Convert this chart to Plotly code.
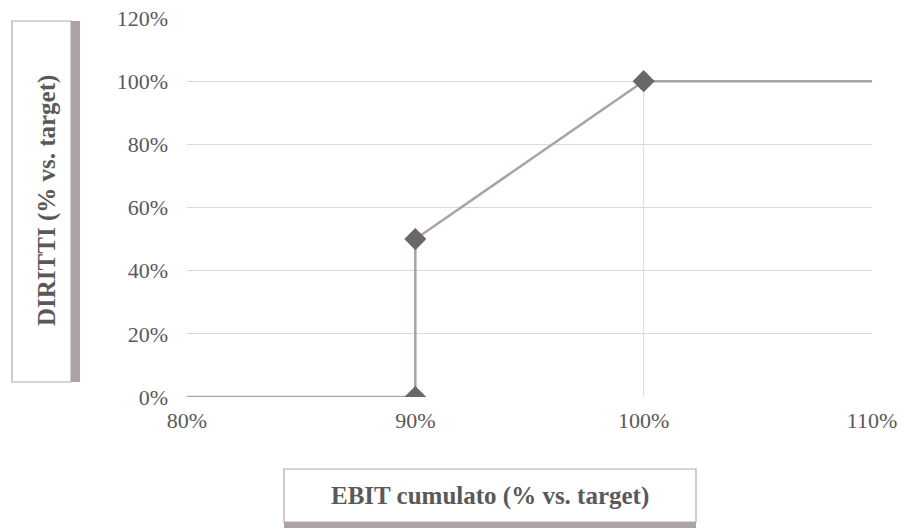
import plotly.graph_objects as go

# Data
ebit = [0.8, 0.9, 0.9, 1.0, 1.1]
diritti = [0.0, 0.0, 0.5, 1.0, 1.0]
marker_x = [0.9, 0.9, 1.0]
marker_y = [0.0, 0.5, 1.0]
x_title = "EBIT cumulato (% vs. target)"
y_title = "DIRITTI (% vs. target)"

W, H = 898, 528
L, R, T, B = 187, 26, 18, 131
PW, PH = W - L - R, H - T - B

def px(x):
    return (x - L) / PW

def py(y):
    return (H - B - y) / PH

LINE_C = "#aca2a2"
MARK_C = "#6b6767"
GRID_C = "#d9d9d9"
TEXT_C = "#595959"
FONT = "Liberation Serif"

fig = go.Figure()
# vertical gridline at 100%
fig.add_trace(go.Scatter(x=[1.0, 1.0], y=[0.0, 1.0], mode="lines",
                         line=dict(color=GRID_C, width=1), hoverinfo="skip", showlegend=False))
fig.add_trace(go.Scatter(x=ebit, y=diritti, mode="lines",
                         line=dict(color=LINE_C, width=2.5), showlegend=False))
fig.add_trace(go.Scatter(x=marker_x, y=marker_y, mode="markers",
                         marker=dict(symbol="diamond", size=17, color=MARK_C), showlegend=False))

shapes = []
# Y title box: shadow on right
shapes.append(dict(type="rect", xref="paper", yref="paper",
                   x0=px(71), x1=px(80), y0=py(382), y1=py(21),
                   fillcolor="#ada3a3", line=dict(width=0), layer="below"))
shapes.append(dict(type="rect", xref="paper", yref="paper",
                   x0=px(12), x1=px(71), y0=py(382), y1=py(21),
                   fillcolor="white", line=dict(color="#b3a9a9", width=1.2), layer="below"))
# X title box: shadow at bottom
shapes.append(dict(type="rect", xref="paper", yref="paper",
                   x0=px(284), x1=px(696), y0=py(528), y1=py(522),
                   fillcolor="#ada3a3", line=dict(width=0), layer="below"))
shapes.append(dict(type="rect", xref="paper", yref="paper",
                   x0=px(284), x1=px(696), y0=py(522), y1=py(469),
                   fillcolor="white", line=dict(color="#b3a9a9", width=1.2), layer="below"))

annotations = [
    dict(text="<b>" + y_title + "</b>", xref="paper", yref="paper",
         x=px(47), y=py(201), textangle=-90, showarrow=False,
         xanchor="center", yanchor="middle",
         font=dict(family=FONT, size=25, color=TEXT_C)),
    dict(text="<b>" + x_title + "</b>", xref="paper", yref="paper",
         x=px(490), y=py(496), showarrow=False,
         xanchor="center", yanchor="middle",
         font=dict(family=FONT, size=25, color=TEXT_C)),
]

fig.update_layout(
    width=W, height=H,
    margin=dict(l=L, r=R, t=T, b=B, autoexpand=False),
    paper_bgcolor="white", plot_bgcolor="white",
    shapes=shapes, annotations=annotations,
    font=dict(family=FONT, size=22, color=TEXT_C),
    xaxis=dict(range=[0.8, 1.1], tickvals=[0.8, 0.9, 1.0, 1.1], tickformat=".0%",
               showgrid=False, zeroline=False, showline=False, ticks="",
               ticklabelstandoff=8),
    yaxis=dict(range=[0, 1.2], dtick=0.2, tickformat=".0%",
               showgrid=True, gridcolor=GRID_C, gridwidth=1,
               zeroline=False, showline=False, ticks="",
               ticklabelstandoff=18),
)

fig.write_html("out.html", config={"displayModeBar": False},
               post_script="document.body.style.margin='0';")
